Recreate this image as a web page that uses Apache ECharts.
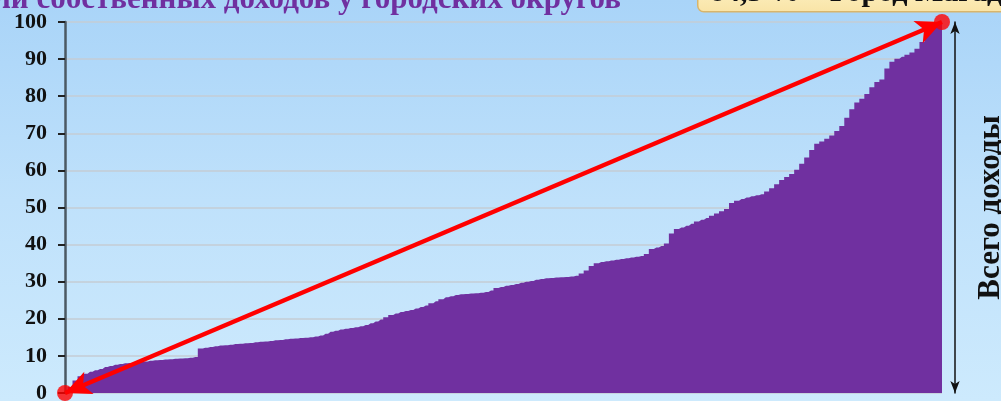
<!DOCTYPE html>
<html>
<head>
<meta charset="utf-8">
<script src="https://cdn.jsdelivr.net/npm/echarts@6/dist/echarts.min.js"></script>
<style>
  html, body { margin: 0; padding: 0; }
  #chart {
    width: 1001px;
    height: 401px;
    background: linear-gradient(to bottom, #a9d4f8 0%, #bfe1fb 50%, #cdeafd 100%);
  }
</style>
</head>
<body>
<div id="chart"></div>
<script>
// share of total income, sorted ascending, one value per city district
const shares = [
  0, 1.6, 3.4, 4.5, 5.2, 5.7, 6.1, 6.5, 7.0, 7.3,
  7.6, 7.8, 8.0, 8.1, 8.3, 8.4, 8.5, 8.7, 8.8, 8.9,
  9.0, 9.1, 9.2, 9.3, 9.4, 9.5, 9.7, 12.0, 12.2, 12.4,
  12.6, 12.8, 12.9, 13.0, 13.2, 13.3, 13.4, 13.5, 13.7, 13.8,
  13.9, 14.0, 14.2, 14.3, 14.5, 14.6, 14.7, 14.8, 14.9, 15.0,
  15.2, 15.5, 16.0, 16.5, 16.8, 17.1, 17.3, 17.5, 17.7, 18.0,
  18.3, 18.8, 19.3, 19.8, 20.4, 21.0, 21.4, 21.8, 22.1, 22.4,
  22.8, 23.2, 23.6, 24.2, 24.7, 25.3, 25.8, 26.1, 26.4, 26.6,
  26.7, 26.8, 26.9, 27.0, 27.2, 27.6, 28.3, 28.6, 28.9, 29.1,
  29.4, 29.7, 30.0, 30.2, 30.5, 30.7, 30.9, 31.0, 31.1, 31.2,
  31.3, 31.4, 31.6, 32.2, 33.0, 34.2, 35.0, 35.3, 35.5, 35.7,
  35.9, 36.1, 36.3, 36.5, 36.7, 36.9, 37.5, 38.8, 39.2, 39.6,
  40.3, 43.0, 44.2, 44.6, 45.1, 45.6, 46.2, 46.7, 47.2, 47.8,
  48.4, 49.0, 49.6, 51.2, 51.8, 52.3, 52.7, 53.0, 53.3, 53.6,
  54.3, 55.2, 56.3, 57.4, 58.2, 59.0, 60.2, 61.8, 63.5, 65.5,
  67.2, 67.8, 68.5, 69.4, 70.6, 72.0, 74.2, 76.5, 78.3, 79.3,
  80.6, 82.4, 83.8, 84.5, 87.5, 89.3, 90.1, 90.6, 91.2, 91.8,
  92.8, 94.6, 96.6, 98.2, 99.6, 100.0
];
const districts = shares.map((_, i) => String(i + 1));
const yTicks = { min: 0, max: 100, interval: 10 };

const titleText = "Доли собственных доходов у городских округов";
const calloutText = "84,5 % – Город Магадан";
const axisName = "Всего доходы";

const serif = "'Liberation Serif', 'DejaVu Serif', serif";
const purple = "#7030a0";

const chart = echarts.init(document.getElementById("chart"));
const last = districts.length - 1;

chart.setOption({
  animation: false,
  title: {
    text: titleText,
    left: -48,
    top: -21,
    textStyle: {
      fontFamily: serif,
      fontWeight: "bold",
      fontSize: 31,
      color: purple,
    },
  },
  grid: { left: 65, right: 59, top: 22, bottom: 8, outerBoundsMode: "none" },
  xAxis: {
    type: "category",
    data: districts,
    boundaryGap: false,
    axisLine: { show: false },
    axisTick: { show: false },
    axisLabel: { show: false },
    splitLine: { show: false },
  },
  yAxis: [
    {
      type: "value",
      min: yTicks.min,
      max: yTicks.max,
      interval: yTicks.interval,
      axisLine: { show: true, lineStyle: { color: "#4b5963", width: 2.5 } },
      axisTick: { show: true, length: 7, lineStyle: { color: "#222", width: 2 } },
      axisLabel: {
        margin: 18,
        fontFamily: serif,
        fontWeight: "bold",
        fontSize: 22,
        color: "#111",
      },
      splitLine: { lineStyle: { color: "#c5cdd4", width: 1.5 } },
    },
    {
      type: "value",
      position: "right",
      offset: 13,
      min: yTicks.min,
      max: yTicks.max,
      axisLine: {
        show: true,
        symbol: ["arrow", "arrow"],
        symbolSize: [7, 12],
        lineStyle: { color: "#111", width: 1.5 },
      },
      axisTick: { show: false },
      axisLabel: { show: false },
      splitLine: { show: false },
      name: axisName,
      nameLocation: "middle",
      nameRotate: 90,
      nameGap: 20,
      nameTextStyle: {
        fontFamily: serif,
        fontWeight: "bold",
        fontSize: 31,
        color: "#111",
      },
    },
  ],
  series: [
    {
      type: "line",
      data: shares,
      step: "middle",
      symbol: "none",
      lineStyle: { width: 0, color: purple },
      itemStyle: { color: purple },
      areaStyle: { color: purple, opacity: 1 },
      markLine: {
        silent: true,
        symbol: ["arrow", "arrow"],
        symbolSize: [18, 26],
        label: { show: false },
        lineStyle: { color: "#ff0000", width: 4.5, type: "solid" },
        data: [[{ coord: [districts[0], shares[0]] }, { coord: [districts[last], shares[last]] }]],
      },
    },
    {
      type: "scatter",
      clip: false,
      z: 5,
      symbolSize: 16,
      itemStyle: { color: "#ff0000" },
      data: [[districts[0], shares[0]], [districts[last], shares[last]]],
    },
  ],
  graphic: [
    {
      type: "rect",
      left: 697,
      top: -30,
      shape: { width: 340, height: 41, r: 6 },
      style: {
        fill: new echarts.graphic.LinearGradient(0, 0, 0, 1, [
          { offset: 0, color: "#fff6d2" },
          { offset: 1, color: "#f9e4a6" },
        ]),
        stroke: "#d8b56c",
        lineWidth: 1.5,
      },
    },
    {
      type: "text",
      left: 710,
      top: -22,
      style: {
        text: calloutText,
        font: "bold 30px " + serif,
        fill: "#111",
      },
    },
  ],
});
</script>
</body>
</html>
